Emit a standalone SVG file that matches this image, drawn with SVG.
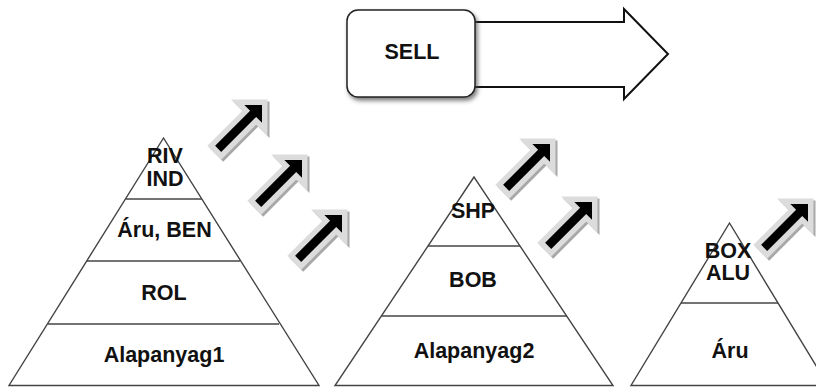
<svg xmlns="http://www.w3.org/2000/svg" xmlns:xlink="http://www.w3.org/1999/xlink" width="816" height="387" viewBox="0 0 816 387">
  <style>
    .tier { fill: #ffffff; stroke: #444444; stroke-width: 1.4; stroke-linejoin: miter; }
    .div { stroke: #444444; stroke-width: 1.6; fill: none; }
    .lbl { font-family: "Liberation Sans", Arial, sans-serif; font-weight: bold; font-size: 21.5px; fill: #111111; text-anchor: middle; }
    .big { fill: #ffffff; stroke: #111111; stroke-width: 2; stroke-linejoin: miter; }
    .box { fill: #ffffff; stroke: #222222; stroke-width: 1.5; }
  </style>
  <defs>
    <filter id="shadow" x="-20%" y="-20%" width="150%" height="160%">
      <feDropShadow dx="2" dy="3" stdDeviation="2" flood-color="#444444" flood-opacity="0.7"/>
    </filter>
    <polygon id="arrowShape" points="0,0 -12.5,-12.5 -12.5,-4.3 -62,-4.3 -62,4.3 -12.5,4.3 -12.5,12.5"/>
    <!-- block arrow pointing up-right, tip at the origin -->
    <g id="upArrow">
      <use xlink:href="#arrowShape" transform="translate(2,2) rotate(-45)" fill="#a8a8a8" stroke="#a8a8a8" stroke-width="11" stroke-linejoin="miter"/>
      <use xlink:href="#arrowShape" transform="rotate(-45)" fill="#dcdcdc" stroke="#dcdcdc" stroke-width="11" stroke-linejoin="miter"/>
      <use xlink:href="#arrowShape" transform="rotate(-45)" fill="#000000"/>
    </g>
  </defs>

  <rect width="816" height="387" fill="#ffffff"/>

  <!-- SELL box with the wide outgoing arrow -->
  <g id="sell">
    <polygon class="big" points="474,22 624,22 624,9 668,54 624,99 624,87 474,87"/>
    <rect class="box" x="347" y="10" width="128" height="87" rx="11" ry="11" filter="url(#shadow)"/>
    <text class="lbl" x="412" y="59">SELL</text>
  </g>

  <!-- pyramid 1 -->
  <g id="pyramid1">
    <polygon class="tier" points="163.5,138 9,385.5 319,385.5"/>
    <line class="div" x1="126" y1="199" x2="202" y2="199"/>
    <line class="div" x1="87" y1="261" x2="240" y2="261"/>
    <line class="div" x1="48" y1="324" x2="279" y2="324"/>
    <text class="lbl" x="165" y="163">RIV</text>
    <text class="lbl" x="165" y="186">IND</text>
    <text class="lbl" x="164.5" y="237">Áru, BEN</text>
    <text class="lbl" x="164" y="300">ROL</text>
    <text class="lbl" x="164" y="362">Alapanyag1</text>
  </g>

  <!-- pyramid 2 -->
  <g id="pyramid2">
    <polygon class="tier" points="474,177 335,385.5 613,385.5"/>
    <line class="div" x1="428" y1="246" x2="520" y2="246"/>
    <line class="div" x1="382" y1="316" x2="567" y2="316"/>
    <text class="lbl" x="473" y="218">SHP</text>
    <text class="lbl" x="473" y="287">BOB</text>
    <text class="lbl" x="474" y="358">Alapanyag2</text>
  </g>

  <!-- pyramid 3 -->
  <g id="pyramid3">
    <polygon class="tier" points="729.5,223 631,385.5 828,385.5"/>
    <line class="div" x1="681" y1="303" x2="778" y2="303"/>
    <text class="lbl" x="728" y="258">BOX</text>
    <text class="lbl" x="728" y="280">ALU</text>
    <text class="lbl" x="730" y="358">Áru</text>
  </g>

  <!-- upward arrows -->
  <g id="connectors">
    <use xlink:href="#upArrow" transform="translate(262,105)"/>
    <use xlink:href="#upArrow" transform="translate(302,160)"/>
    <use xlink:href="#upArrow" transform="translate(342,215)"/>
    <use xlink:href="#upArrow" transform="translate(550,144)"/>
    <use xlink:href="#upArrow" transform="translate(592,202)"/>
    <use xlink:href="#upArrow" transform="translate(808,204)"/>
  </g>
</svg>
